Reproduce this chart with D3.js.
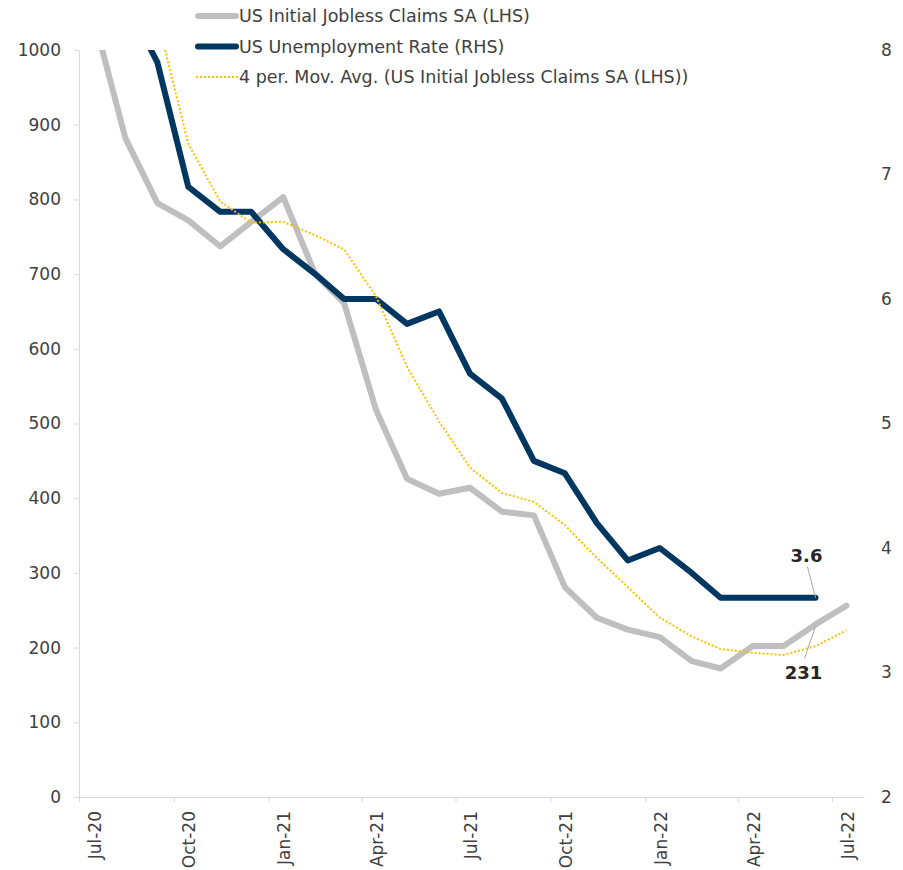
<!DOCTYPE html>
<html>
<head>
<meta charset="utf-8">
<script src="https://cdnjs.cloudflare.com/ajax/libs/d3/7.8.5/d3.min.js"></script>
<style>
  body { margin: 0; background: #fff; }
  text { font-family: "DejaVu Sans", Verdana, sans-serif; fill: #404040; }
</style>
</head>
<body>
<div id="chart"></div>
<script>
// monthly points, dated mid-month
var claims_months = ["2020-07","2020-08","2020-09","2020-10","2020-11","2020-12",
  "2021-01","2021-02","2021-03","2021-04","2021-05","2021-06","2021-07","2021-08",
  "2021-09","2021-10","2021-11","2021-12","2022-01","2022-02","2022-03","2022-04",
  "2022-05","2022-06","2022-07"];
var claims = [1045, 882, 795, 772, 737, 770, 803, 700, 661, 518, 426, 406, 414, 382,
  377, 281, 240, 224, 214, 182, 172, 202, 202, 231, 256];

var unemp_months = claims_months.slice(0, 24);
var unemp = [10.2, 8.4, 7.9, 6.9, 6.7, 6.7, 6.4, 6.2, 6.0, 6.0, 5.8, 5.9, 5.4, 5.2,
  4.7, 4.6, 4.2, 3.9, 4.0, 3.8, 3.6, 3.6, 3.6, 3.6];

var ma_months = claims_months.slice(2);
var ma = [1042, 874, 797, 769, 770, 752, 733, 670, 576, 503, 441, 407, 395, 364,
  320, 281, 240, 215, 198, 193, 190, 202, 223];

var left_ticks = [0, 100, 200, 300, 400, 500, 600, 700, 800, 900, 1000];
var right_ticks = [2, 3, 4, 5, 6, 7, 8];
var x_ticks = ["2020-07","2020-10","2021-01","2021-04","2021-07","2021-10","2022-01","2022-04","2022-07"];

var legend_names = [
  "US Initial Jobless Claims SA (LHS)",
  "US Unemployment Rate (RHS)",
  "4 per. Mov. Avg. (US Initial Jobless Claims SA (LHS))"
];

var width = 903, height = 870;
var plot_left = 79, plot_right = 864, plot_top = 50, plot_bottom = 797;

var parseMonth = d3.timeParse("%Y-%m");
function mid(m) { return d3.timeDay.offset(parseMonth(m), 14); }

var svg = d3.select("#chart").append("svg")
  .attr("width", width)
  .attr("height", height);

var x = d3.scaleTime()
  .domain([new Date(2020, 6, 1), new Date(2022, 7, 1)])
  .range([plot_left, plot_right]);
var y = d3.scaleLinear().domain([0, 1000]).range([plot_bottom, plot_top]);
var y2 = d3.scaleLinear().domain([2, 8]).range([plot_bottom, plot_top]);

var axisColor = "#d9d9d9";

// left axis
var ax = svg.append("g")
  .attr("transform", "translate(" + plot_left + ",0)")
  .call(d3.axisLeft(y).tickValues(left_ticks).tickFormat(d3.format("d"))
    .tickSize(5).tickPadding(13).tickSizeOuter(0));
ax.select(".domain").attr("stroke", axisColor);
ax.selectAll(".tick line").attr("stroke", axisColor);
ax.selectAll("text").attr("font-size", 17).attr("fill", "#404040");

// right axis, labels only
var ax2 = svg.append("g")
  .attr("transform", "translate(" + (plot_right + 17) + ",0)")
  .call(d3.axisRight(y2).tickValues(right_ticks).tickFormat(d3.format("d"))
    .tickSize(0).tickPadding(0));
ax2.select(".domain").remove();
ax2.selectAll("text").attr("font-size", 17).attr("fill", "#404040");

// bottom axis
var bx = svg.append("g")
  .attr("transform", "translate(0," + plot_bottom + ")")
  .call(d3.axisBottom(x).tickValues(x_ticks.map(parseMonth)).tickSize(5)
    .tickFormat(d3.timeFormat("%b-%y")).tickSizeOuter(0));
bx.select(".domain").attr("stroke", axisColor);
bx.selectAll(".tick line").attr("stroke", axisColor);
bx.selectAll("text")
  .attr("font-size", 17)
  .attr("fill", "#404040")
  .attr("text-anchor", "end")
  .attr("transform", "translate(21,14) rotate(-90)")
  .attr("x", 0).attr("y", 0).attr("dy", 0);

svg.append("clipPath").attr("id", "plot")
  .append("rect")
  .attr("x", plot_left).attr("y", plot_top)
  .attr("width", plot_right - plot_left).attr("height", plot_bottom - plot_top);

var plot = svg.append("g").attr("clip-path", "url(#plot)");

var lineL = d3.line().x(function (d) { return x(mid(d.m)); }).y(function (d) { return y(d.v); });
var lineR = d3.line().x(function (d) { return x(mid(d.m)); }).y(function (d) { return y2(d.v); });

var claimsData = claims.map(function (v, i) { return { m: claims_months[i], v: v }; });
var unempData = unemp.map(function (v, i) { return { m: unemp_months[i], v: v }; });
var maData = ma.map(function (v, i) { return { m: ma_months[i], v: v }; });

plot.append("path").datum(claimsData)
  .attr("d", lineL)
  .attr("fill", "none").attr("stroke", "#bfbfbf").attr("stroke-width", 6)
  .attr("stroke-linejoin", "round").attr("stroke-linecap", "round");

plot.append("path").datum(unempData)
  .attr("d", lineR)
  .attr("fill", "none").attr("stroke", "#003761").attr("stroke-width", 6)
  .attr("stroke-linejoin", "round").attr("stroke-linecap", "round");

plot.append("path").datum(maData)
  .attr("d", lineL)
  .attr("fill", "none").attr("stroke", "#ffc000").attr("stroke-width", 2)
  .attr("stroke-dasharray", "2,2");

// data labels
var lastU = unempData[unempData.length - 1];
var ux = x(mid(lastU.m)), uy = y2(lastU.v);
svg.append("line")
  .attr("x1", ux - 8).attr("y1", uy - 31).attr("x2", ux).attr("y2", uy)
  .attr("stroke", "#a6a6a6").attr("stroke-width", 1);
svg.append("text")
  .attr("x", ux - 9).attr("y", uy - 36)
  .attr("text-anchor", "middle").attr("font-size", 18).attr("font-weight", "bold")
  .style("fill", "#262626")
  .text(lastU.v.toFixed(1));

var jun = claimsData[23];
var cx = x(mid(jun.m)), cy = y(jun.v);
svg.append("line")
  .attr("x1", cx).attr("y1", cy + 2).attr("x2", cx - 11).attr("y2", cy + 34)
  .attr("stroke", "#a6a6a6").attr("stroke-width", 1);
svg.append("text")
  .attr("x", cx - 12).attr("y", cy + 55)
  .attr("text-anchor", "middle").attr("font-size", 18).attr("font-weight", "bold")
  .style("fill", "#262626")
  .text(jun.v);

// legend
var lg = svg.append("g");
legend_names.forEach(function (name, i) {
  var ly = 16 + i * 30.5;
  var l = lg.append("line")
    .attr("x1", 198).attr("x2", 236).attr("y1", ly).attr("y2", ly);
  if (i == 0) l.attr("stroke", "#bfbfbf").attr("stroke-width", 6).attr("stroke-linecap", "round");
  if (i == 1) l.attr("stroke", "#003761").attr("stroke-width", 6).attr("stroke-linecap", "round");
  if (i == 2) l.attr("x1", 196).attr("x2", 238).attr("stroke", "#ffc000").attr("stroke-width", 2).attr("stroke-dasharray", "2,2");
  lg.append("text")
    .attr("x", 239).attr("y", ly + 6)
    .attr("font-size", 17.5)
    .text(name);
});
</script>
</body>
</html>
